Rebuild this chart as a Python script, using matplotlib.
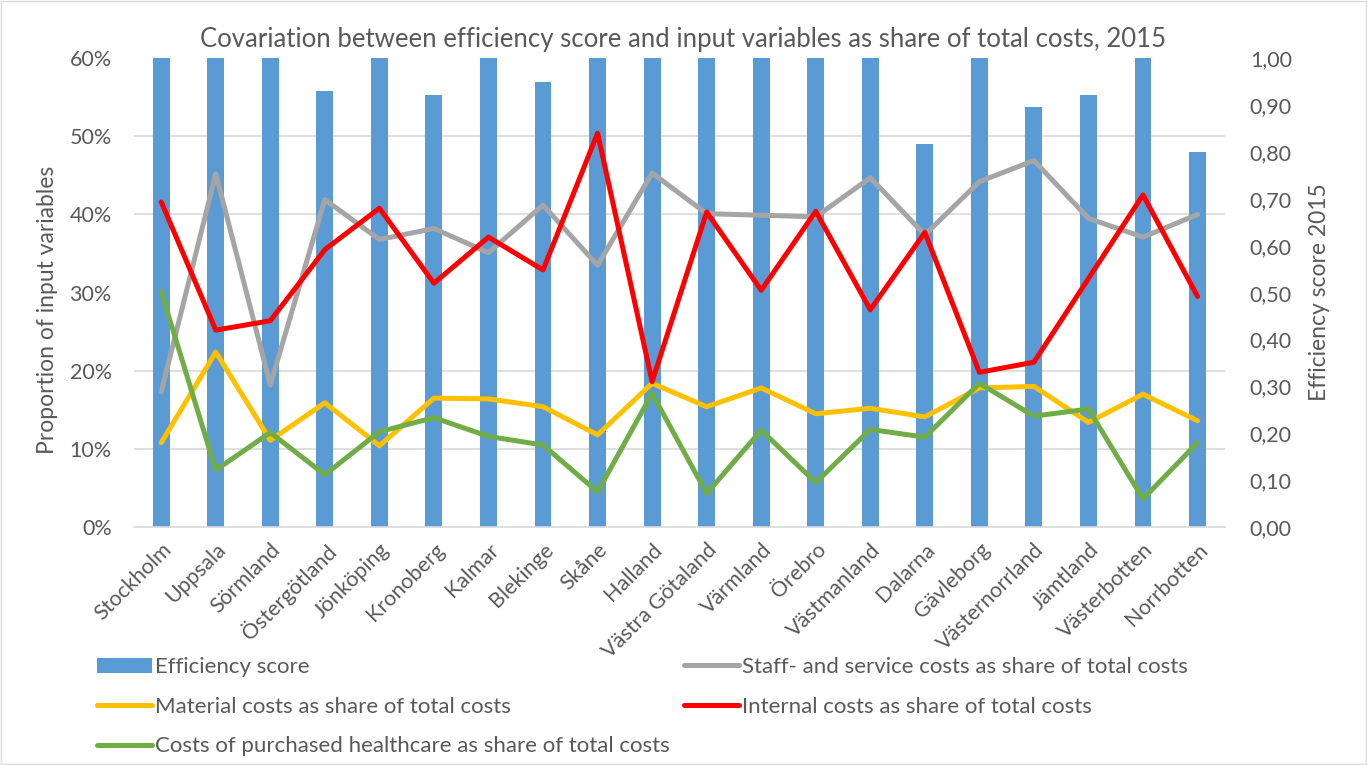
import matplotlib.pyplot as plt
from matplotlib.patches import Rectangle
from matplotlib.ticker import FixedLocator, FuncFormatter
import numpy as np

counties = ['Stockholm', 'Uppsala', 'Sörmland', 'Östergötland', 'Jönköping',
            'Kronoberg', 'Kalmar', 'Blekinge', 'Skåne', 'Halland',
            'Västra Götaland', 'Värmland', 'Örebro', 'Västmanland', 'Dalarna',
            'Gävleborg', 'Västernorrland', 'Jämtland', 'Västerbotten', 'Norrbotten']

efficiency = [1.00, 1.00, 1.00, 0.93, 1.00, 0.921, 1.00, 0.949, 1.00, 1.00,
              1.00, 1.00, 1.00, 1.00, 0.817, 1.00, 0.896, 0.922, 1.00, 0.80]

# shares of total costs, in percent
staff = [17.3, 45.2, 18.2, 41.9, 36.8, 38.2, 35.1, 41.2, 33.5, 45.3,
         40.1, 39.9, 39.7, 44.7, 37.4, 44.2, 46.9, 39.5, 37.1, 40.0]
material = [10.8, 22.4, 11.1, 15.9, 10.4, 16.5, 16.4, 15.4, 11.8, 18.4,
            15.4, 17.8, 14.5, 15.2, 14.1, 17.8, 18.0, 13.4, 17.0, 13.6]
internal = [41.6, 25.2, 26.4, 35.5, 40.8, 31.2, 37.1, 32.9, 50.4, 18.6,
            40.3, 30.3, 40.4, 27.8, 37.7, 19.8, 21.1, 31.8, 42.5, 29.5]
purchased = [30.1, 7.3, 12.1, 6.7, 12.2, 14.0, 11.6, 10.5, 4.5, 17.1,
             4.3, 12.4, 5.7, 12.5, 11.5, 18.4, 14.2, 15.1, 3.6, 10.8]

plt.rcParams['font.family'] = ['Lato', 'DejaVu Sans']
txt = '#595959'

fig = plt.figure(figsize=(13.67, 7.65), dpi=100)
ax1 = fig.add_axes([0.098, 0.311, 0.798, 0.613])
ax2 = ax1.twinx()

x = np.arange(len(counties))

# bars sit on the right axis, below the line axis
ax1.set_zorder(ax2.get_zorder() + 1)
ax1.patch.set_visible(False)
ax2.set_axisbelow(True)
bars = ax2.bar(x, efficiency, width=0.31, color='#5B9BD5', label='Efficiency score')
ax2.set_ylim(0, 1)
ax2.set_yticks(np.arange(0, 1.01, 0.1))
ax2.yaxis.set_major_formatter(FuncFormatter(lambda v, p: f'{v:.2f}'.replace('.', ',')))
ax2.yaxis.set_minor_locator(FixedLocator(np.linspace(0, 1, 7)))
ax2.grid(which='minor', axis='y', color='#D9D9D9', lw=1.2)
ax2.tick_params(which='both', length=0, labelsize=15.5, labelcolor=txt, pad=18)
ax2.set_ylabel('Efficiency score 2015', fontsize=16.5, color=txt, labelpad=12)

lw = 3.6
style = dict(lw=lw, solid_joinstyle='round', solid_capstyle='round')
l_staff, = ax1.plot(x, staff, color='#A5A5A5',
                    label='Staff- and service costs as share of total costs', **style)
l_mat, = ax1.plot(x, material, color='#FFC000',
                  label='Material costs as share of total costs', **style)
l_int, = ax1.plot(x, internal, color='#FF0000',
                  label='Internal costs as share of total costs', **style)
l_pur, = ax1.plot(x, purchased, color='#70AD47',
                  label='Costs of purchased healthcare as share of total costs', **style)

ax1.set_ylim(0, 60)
ax1.set_xlim(-0.5, len(counties) - 0.5)
ax1.set_yticks(range(0, 61, 10))
ax1.set_yticklabels([f'{v}%' for v in range(0, 61, 10)])
ax1.set_xticks(x)
ax1.set_xticklabels(counties, rotation=45, ha='right', rotation_mode='anchor')
ax1.tick_params(length=0, labelsize=15.5, labelcolor=txt)
ax1.tick_params(axis='y', pad=16)
ax1.tick_params(axis='x', pad=9)
ax1.set_ylabel('Proportion of input variables', fontsize=16.5, color=txt)
ax1.yaxis.set_label_coords(-0.070, 0.463)

for ax in (ax1, ax2):
    for s in ax.spines.values():
        s.set_visible(False)
ax1.spines['bottom'].set_visible(True)
ax1.spines['bottom'].set_color('#D9D9D9')
ax1.spines['bottom'].set_linewidth(1.2)

fig.text(0.5, 0.948, 'Covariation between efficiency score and input variables as share of total costs, 2015',
         ha='center', va='center', fontsize=18.5, color=txt)

fig.legend([bars, l_mat, l_pur, l_staff, l_int],
           [bars.get_label(), l_mat.get_label(), l_pur.get_label(),
            l_staff.get_label(), l_int.get_label()],
           ncol=2, loc='upper left', bbox_to_anchor=(0.056, 0.167),
           frameon=False, fontsize=16, labelcolor=txt,
           handlelength=2.5, handleheight=0.7, handletextpad=0.15,
           columnspacing=0.6, labelspacing=0.88)

fig.patches.append(Rectangle((0.001, 0.001), 0.998, 0.998, transform=fig.transFigure,
                             fill=False, edgecolor='#D9D9D9', lw=1))

fig.savefig('out.png', dpi=100)
